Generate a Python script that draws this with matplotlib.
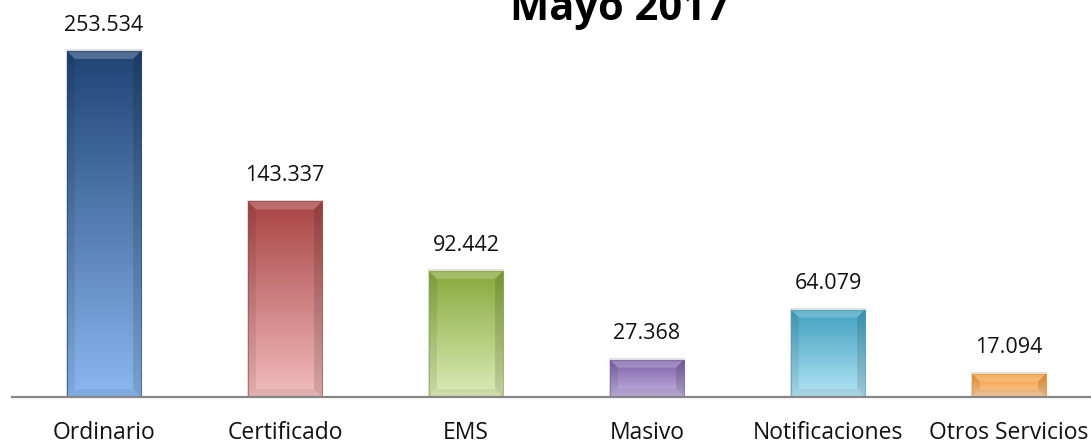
import numpy as np
import matplotlib.pyplot as plt
from matplotlib.colors import LinearSegmentedColormap
from matplotlib.patches import Polygon

categories = ['Ordinario', 'Certificado', 'EMS', 'Masivo', 'Notificaciones', 'Otros Servicios']
values = [253534, 143337, 92442, 27368, 64079, 17094]
value_labels = ['253.534', '143.337', '92.442', '27.368', '64.079', '17.094']
top_colours = ['#1f4373', '#a84444', '#86a83a', '#7a5ea8', '#3fa0c0', '#f0952e']
bottom_colours = ['#8ab8f0', '#f2bcbc', '#dcecb8', '#c4b4e0', '#b4e4f4', '#fcd0a4']

plt.rcParams['font.family'] = ['Open Sans', 'DejaVu Sans']

fig = plt.figure(figsize=(10.91, 4.45), dpi=100)
ax = fig.add_axes([12/1091, 48/445, 1 - 12/1091, 1 - 48/445])

x = np.arange(len(categories))
width = 0.41
ymax = 290900
ax.set_xlim(-0.508, 5.453)
ax.set_ylim(0, ymax)

bars = ax.bar(x, values, width, color='none', edgecolor='none')

# bevel size in data units (~8px)
bx = 8/181
by = 8/397*ymax

grad = np.linspace(0, 1, 256).reshape(-1, 1)
for i, b in enumerate(bars):
    x0 = b.get_x()
    x1 = x0 + b.get_width()
    h = b.get_height()
    # soft shadow
    ax.add_patch(plt.Rectangle((x0 - 0.006, 0), x1 - x0 + 0.012, h + ymax*0.004,
                               color='#000000', alpha=0.12, lw=0, zorder=1))
    cmap = LinearSegmentedColormap.from_list('g%d' % i, [bottom_colours[i], top_colours[i]])
    im = ax.imshow(grad, cmap=cmap, origin='lower', extent=(x0, x1, 0, h),
                   aspect='auto', zorder=2, interpolation='bicubic')
    im.set_clip_path(b)
    b.set_zorder(2)
    byy = min(by, h/3)
    # top bevel lighter
    ax.add_patch(Polygon([[x0, h], [x1, h], [x1 - bx, h - byy], [x0 + bx, h - byy]],
                         closed=True, color='white', alpha=0.22, lw=0, zorder=3))
    # sides darker
    ax.add_patch(Polygon([[x0, 0], [x0, h], [x0 + bx, h - byy], [x0 + bx, byy]],
                         closed=True, color='black', alpha=0.08, lw=0, zorder=3))
    ax.add_patch(Polygon([[x1, 0], [x1, h], [x1 - bx, h - byy], [x1 - bx, byy]],
                         closed=True, color='black', alpha=0.12, lw=0, zorder=3))
    # bottom bevel
    ax.add_patch(Polygon([[x0, 0], [x1, 0], [x1 - bx, byy], [x0 + bx, byy]],
                         closed=True, color='black', alpha=0.06, lw=0, zorder=3))
    ax.add_patch(plt.Rectangle((x0, 0), x1 - x0, h, fill=False,
                               edgecolor=top_colours[i], lw=0.8, alpha=0.6, zorder=4))
    ax.annotate(value_labels[i], (b.get_x() + b.get_width()/2, h), xytext=(0, 11),
                textcoords='offset points', ha='center', va='bottom', fontsize=15.5,
                color='#111111')

for s in ['top', 'left', 'right']:
    ax.spines[s].set_visible(False)
ax.spines['bottom'].set_color('#868686')
ax.spines['bottom'].set_linewidth(1.6)
ax.spines['bottom'].set_zorder(5)
ax.set_yticks([])
ax.set_xticks(x)
ax.set_xticklabels(categories, fontsize=16.5, color='#111111')
ax.tick_params(axis='x', length=0, pad=17)

fig.text(620/1091, (445 - 20)/445, 'Mayo 2017', ha='center', va='baseline',
         fontsize=30, fontweight='bold', color='#000000')

fig.savefig('out.png', dpi=100)
